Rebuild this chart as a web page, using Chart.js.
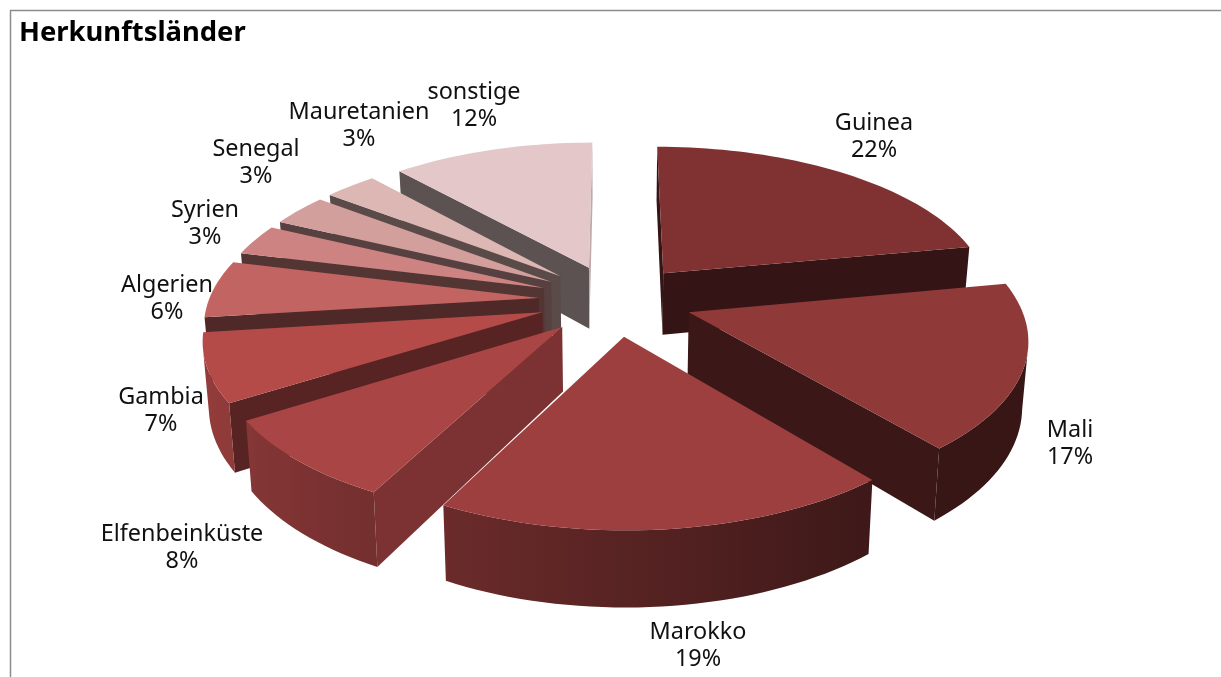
<!DOCTYPE html>
<html>
<head>
<meta charset="utf-8">
<title>Herkunftsländer</title>
<script src="https://cdn.jsdelivr.net/npm/chart.js@4"></script>
<style>
  html, body { margin: 0; background: #fff; }
  canvas { display: block; }
</style>
</head>
<body>
<canvas id="originChart" width="1221" height="677"></canvas>
<script>
// ---------------------- Data ----------------------
const countries = ["Guinea", "Mali", "Marokko", "Elfenbeinküste", "Gambia", "Algerien", "Syrien", "Senegal", "Mauretanien", "sonstige"];
// slice sizes, the labels show them rounded
const shares = [22, 17, 18.6, 8.4, 7, 5.9, 3.2, 3.3, 3, 11.6];
const sliceColors = ["#803232", "#903939", "#9e3f3f", "#aa4545", "#b54b49", "#c26462", "#cc8381", "#d29f9d", "#dcb7b4", "#e4c8c9"];

// ---------------------- Layout ----------------------
// centre of each label's first line
const labelSpots = [[874, 123], [1070, 430], [698, 632], [182, 534], [161, 397], [167, 285], [205, 210], [256, 149], [359, 112], [474, 92]];
const view = { cx: 615.5, cy: 300, rx: 330, ry: 152.7, persp: 0.149, depth: 63, taper: 0.015, explode: 0.233 };
const LABEL_FONT = '23.4px "Noto Sans"';

function project(u, v, low) {
  const w = 1 - view.persp * v;
  const x = view.rx * u / w;
  const y = view.ry * v / w + (low ? view.depth / w : 0);
  return [view.cx + x * (low ? 1 - view.taper : 1), view.cy + y];
}

// does a wall at (u, v) with this normal look towards the viewer?
function facesViewer(u, v, nu, nv) {
  return -u * nu + (1 / view.persp - v) * nv > 0;
}

function shade(hex, f) {
  const n = parseInt(hex.slice(1), 16);
  return `rgb(${(n >> 16) * f | 0},${((n >> 8) & 255) * f | 0},${(n & 255) * f | 0})`;
}

function fillPath(ctx, points, fill) {
  ctx.beginPath();
  points.forEach((p, i) => i ? ctx.lineTo(p[0], p[1]) : ctx.moveTo(p[0], p[1]));
  ctx.closePath();
  ctx.fillStyle = fill;
  ctx.fill();
}

function sideWall(ctx, apex, angle, nu, nv, color) {
  if (!facesViewer(apex[0], apex[1], nu, nv)) return;
  const rim = [apex[0] + Math.cos(angle), apex[1] + Math.sin(angle)];
  const f = 0.41 + 0.68 * Math.pow(Math.max(0, nu - 0.2), 2);
  fillPath(ctx, [
    project(apex[0], apex[1]), project(rim[0], rim[1]),
    project(rim[0], rim[1], true), project(apex[0], apex[1], true)
  ], shade(color, f));
}

function outerWall(ctx, rim, color) {
  const shown = rim.filter(p => facesViewer(p[0], p[1], p[2], p[3]));
  if (shown.length < 2) return;

  const upper = shown.map(p => project(p[0], p[1]));
  const lower = shown.map(p => project(p[0], p[1], true)).reverse();
  const xs = upper.map(p => p[0]);
  const x0 = Math.min(...xs);
  const x1 = Math.max(...xs);

  // lighter towards the left
  const gradient = ctx.createLinearGradient(x0, 0, x1, 0);
  shown.forEach((p, i) => {
    gradient.addColorStop((xs[i] - x0) / (x1 - x0), shade(color, Math.max(0.4, 0.56 - 0.27 * p[2])));
  });
  fillPath(ctx, upper.concat(lower), gradient);
}

function drawSlice(ctx, arc, color) {
  const mid = (arc.startAngle + arc.endAngle) / 2;
  const apex = [view.explode * Math.cos(mid), view.explode * Math.sin(mid)];

  sideWall(ctx, apex, arc.startAngle, Math.sin(arc.startAngle), -Math.cos(arc.startAngle), color);
  sideWall(ctx, apex, arc.endAngle, -Math.sin(arc.endAngle), Math.cos(arc.endAngle), color);

  const steps = Math.max(2, Math.ceil((arc.endAngle - arc.startAngle) / 0.03));
  const rim = [];
  for (let i = 0; i <= steps; i++) {
    const a = arc.startAngle + (arc.endAngle - arc.startAngle) * i / steps;
    rim.push([apex[0] + Math.cos(a), apex[1] + Math.sin(a), Math.cos(a), Math.sin(a)]);
  }
  outerWall(ctx, rim, color);

  const top = [project(apex[0], apex[1])].concat(rim.map(p => project(p[0], p[1])));
  fillPath(ctx, top, color);
}

// ---------------------- Plugins ----------------------
const framePlugin = {
  id: "frame",
  beforeDraw(chart) {
    const ctx = chart.ctx;
    ctx.save();
    ctx.strokeStyle = "#8c8c8c";
    ctx.lineWidth = 1.5;
    ctx.beginPath();
    ctx.moveTo(10.5, 677);
    ctx.lineTo(10.5, 10.5);
    ctx.lineTo(1221, 10.5);
    ctx.stroke();
    ctx.restore();
  }
};

const tiltedPiePlugin = {
  id: "tiltedPie",
  // replaces the flat arcs with the tilted slices, farthest first
  beforeDatasetDraw(chart, args) {
    const ctx = chart.ctx;
    const arcs = args.meta.data;
    const order = arcs.map((arc, i) => i).sort((a, b) => {
      const depthOf = arc => Math.sin((arc.startAngle + arc.endAngle) / 2);
      return depthOf(arcs[a]) - depthOf(arcs[b]);
    });

    ctx.save();
    order.forEach(i => drawSlice(ctx, arcs[i], args.meta.controller.getDataset().backgroundColor[i]));

    ctx.fillStyle = "#111";
    ctx.font = LABEL_FONT;
    ctx.textAlign = "center";
    ctx.textBaseline = "middle";
    arcs.forEach((arc, i) => {
      ctx.fillText(countries[i], labelSpots[i][0], labelSpots[i][1]);
      ctx.fillText(Math.round(shares[i]) + "%", labelSpots[i][0], labelSpots[i][1] + 27);
    });
    ctx.restore();
    return false;
  }
};

// ---------------------- Chart ----------------------
new Chart(document.getElementById("originChart"), {
  type: "pie",
  data: {
    labels: countries,
    datasets: [{ data: shares, backgroundColor: sliceColors }]
  },
  options: {
    responsive: false,
    animation: false,
    layout: { padding: { left: 19 } },
    plugins: {
      legend: { display: false },
      tooltip: { enabled: false },
      title: {
        display: true,
        text: "Herkunftsländer",
        align: "start",
        color: "#000",
        font: { family: '"Noto Sans"', size: 27.4, weight: "bold" },
        padding: { top: 17, bottom: 4 }
      }
    }
  },
  plugins: [framePlugin, tiltedPiePlugin]
});
</script>
</body>
</html>
